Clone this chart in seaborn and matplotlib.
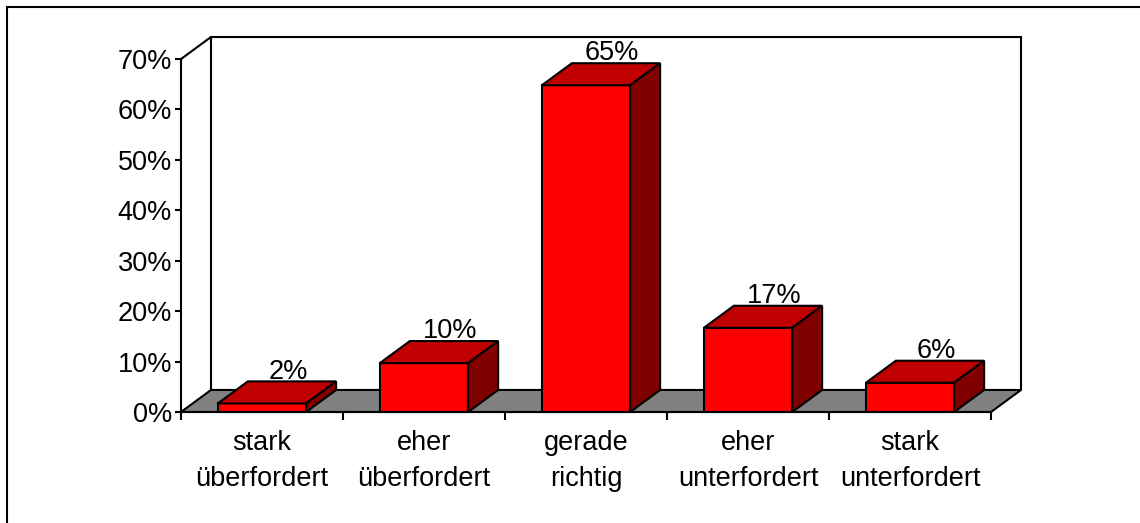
import matplotlib
matplotlib.use("Agg")
import matplotlib.pyplot as plt
from matplotlib.patches import Polygon
from matplotlib.lines import Line2D
import seaborn as sns
import pandas as pd

# --- dados ---
categorias = ["stark\nüberfordert", "eher\nüberfordert", "gerade\nrichtig",
              "eher\nunterfordert", "stark\nunterfordert"]
valores = [1.7, 9.7, 64.8, 16.7, 5.8]
rotulos = [f"{v:.0f}%" for v in valores]
yticks = [0, 10, 20, 30, 40, 50, 60, 70]
ytick_labels = [f"{t}%" for t in yticks]

df = pd.DataFrame({"cat": categorias, "val": valores})

# --- estilo ---
sns.set_style("white")
plt.rcParams["font.family"] = ["Liberation Sans", "DejaVu Sans"]
plt.rcParams["text.color"] = "black"
plt.rcParams["xtick.color"] = "black"
plt.rcParams["ytick.color"] = "black"
plt.rcParams["axes.edgecolor"] = "black"
fs = 19.5
lw = 1.5

# profundidade 3D (unidades de dados)
dx = 0.185
dy = 4.37
frente = "#ff0000"
topo = "#c00000"
lado = "#800000"

fig = plt.figure(figsize=(11.4, 5.23), dpi=100)
ax = fig.add_axes([181 / 1140, 111 / 523, 840 / 1140, 375 / 523])

sns.barplot(data=df, x="cat", y="val", color=frente, saturation=1, width=0.545,
            edgecolor="black", linewidth=lw, zorder=3, ax=ax)

ax.set_xlim(-0.5, 4.5 + dx)
ax.set_ylim(0, 70 + dy)

# chao cinza
ax.add_patch(Polygon([(-0.5, 0), (4.5, 0), (4.5 + dx, dy), (-0.5 + dx, dy)],
                     closed=True, facecolor="#808080", edgecolor="black",
                     linewidth=lw, zorder=1, clip_on=False))

# parede de fundo
x0b, x1b = -0.5 + dx, 4.5 + dx
ax.plot([x0b, x0b, x1b, x1b], [dy, 70 + dy, 70 + dy, dy], color="black",
        linewidth=lw, zorder=1, clip_on=False, solid_joinstyle="miter")
ax.plot([-0.5, x0b], [70, 70 + dy], color="black", linewidth=lw, zorder=1,
        clip_on=False)

# faces de topo e lateral das barras
for bar, v, txt in zip(ax.containers[0], valores, rotulos):
    x0 = bar.get_x()
    x1 = x0 + bar.get_width()
    ax.add_patch(Polygon([(x0, v), (x1, v), (x1 + dx, v + dy), (x0 + dx, v + dy)],
                         closed=True, facecolor=topo, edgecolor="black",
                         linewidth=lw, zorder=3, clip_on=False))
    ax.add_patch(Polygon([(x1, 0), (x1 + dx, dy), (x1 + dx, v + dy), (x1, v)],
                         closed=True, facecolor=lado, edgecolor="black",
                         linewidth=lw, zorder=3, clip_on=False))
    ax.annotate(txt, xy=(bar.get_x() + bar.get_width() / 2 + 0.16, v + dy),
                xytext=(0, 2), textcoords="offset points", ha="center",
                va="baseline", fontsize=fs, color="black", zorder=4)

# eixos
for s in ["top", "right"]:
    ax.spines[s].set_visible(False)
ax.spines["left"].set_bounds(0, 70)
ax.spines["bottom"].set_bounds(-0.5, 4.5)
ax.spines["left"].set_linewidth(lw)
ax.spines["bottom"].set_linewidth(lw)
ax.spines["left"].set_zorder(5)
ax.spines["bottom"].set_zorder(5)

ax.set_yticks(yticks)
ax.set_yticklabels(ytick_labels, fontsize=fs)
ax.tick_params(axis="y", length=4.5, width=lw, pad=2, left=True)

ax.set_xticks(range(len(categorias)))
ax.set_xticklabels(categorias, fontsize=fs, linespacing=1.5)
ax.set_xticks([i - 0.5 for i in range(len(categorias) + 1)], minor=True)
ax.tick_params(axis="x", which="major", length=0, pad=13)
ax.tick_params(axis="x", which="minor", length=5.5, width=lw, bottom=True)
ax.set_xlabel("")
ax.set_ylabel("")
ax.patch.set_alpha(0)

# moldura externa
fig.add_artist(Line2D([7 / 1140, 7 / 1140], [0, 1 - 7 / 523], color="black",
                      linewidth=1.5, transform=fig.transFigure))
fig.add_artist(Line2D([7 / 1140, 1], [1 - 7 / 523, 1 - 7 / 523], color="black",
                      linewidth=1.5, transform=fig.transFigure))

fig.savefig("out.png", dpi=100)
